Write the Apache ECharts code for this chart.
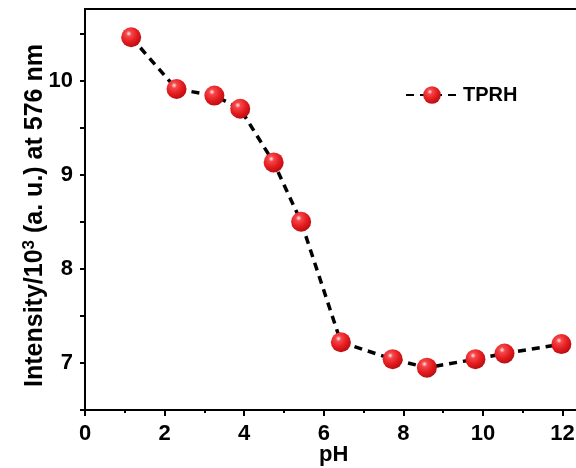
<!DOCTYPE html>
<html>
<head>
<meta charset="utf-8">
<script src="https://cdn.jsdelivr.net/npm/echarts@6/dist/echarts.min.js"></script>
<style>html,body{margin:0;padding:0;background:#fff;}#c{width:576px;height:468px;}</style>
</head>
<body>
<div id="c"></div>
<script>
const seriesName = 'TPRH';
const pH = [1.16, 2.30, 3.25, 3.90, 4.74, 5.43, 6.43, 7.73, 8.59, 9.81, 10.54, 11.97];
const intensity = [10.46, 9.91, 9.84, 9.70, 9.13, 8.50, 7.22, 7.04, 6.95, 7.04, 7.10, 7.20];
const xTicks = [0, 2, 4, 6, 8, 10, 12];
const yTicks = [7, 8, 9, 10];

const chart = echarts.init(document.getElementById('c'));
const font = 'Liberation Sans, Arial, sans-serif';
const ball = {
  type: 'radial', x: 0.38, y: 0.32, r: 0.7,
  colorStops: [
    {offset: 0, color: '#ffe8e8'},
    {offset: 0.2, color: '#f4474a'},
    {offset: 0.6, color: '#e51c20'},
    {offset: 1, color: '#b80d10'}
  ]
};
chart.setOption({
  animation: false,
  backgroundColor: '#fff',
  grid: {left: 85, top: 9, right: -6.5, bottom: 58, show: true, borderColor: '#000', borderWidth: 2,
    backgroundColor: 'transparent', containLabel: false, outerBoundsMode: 'none'},
  legend: {
    data: [seriesName], left: 400, top: 80, itemWidth: 52, itemHeight: 22, itemGap: 9,
    textStyle: {fontFamily: font, fontWeight: 'bold', fontSize: 20, color: '#000'}
  },
  xAxis: {
    type: 'value', min: 0, max: 12.5, interval: 2,
    name: 'pH', nameLocation: 'middle', nameGap: 34, nameMoveOverlap: false,
    nameTextStyle: {fontFamily: font, fontWeight: 'bold', fontSize: 22, color: '#000'},
    axisLine: {show: true, lineStyle: {color: '#000', width: 2}},
    axisTick: {show: true, inside: false, length: 6, lineStyle: {color: '#000', width: 2}},
    minorTick: {show: true, splitNumber: 2, length: 3, lineStyle: {color: '#000', width: 2}},
    splitLine: {show: false},
    axisLabel: {
      fontFamily: font, fontWeight: 'bold', fontSize: 22, color: '#000', margin: 13,
      formatter: v => xTicks.indexOf(v) >= 0 ? String(v) : ''
    }
  },
  yAxis: {
    type: 'value', min: 6.5, max: 10.76, interval: 0.5,
    name: 'Intensity/10{sup|3} (a. u.) at 576 nm', nameLocation: 'middle', nameGap: 35, nameRotate: 90,
    nameMoveOverlap: false,
    nameTextStyle: {
      fontFamily: font, fontWeight: 'bold', fontSize: 25, color: '#000', padding: [0, 12, 0, 0],
      rich: {sup: {fontFamily: font, fontWeight: 'bold', fontSize: 17, color: '#000', verticalAlign: 'top', padding: [0, 0, 12, 0]}}
    },
    axisLine: {show: true, lineStyle: {color: '#000', width: 2}},
    axisTick: {show: true, inside: false, length: 5, lineStyle: {color: '#000', width: 2},
      customValues: [6.5, 7, 7.5, 8, 8.5, 9, 9.5, 10, 10.5]},
    splitLine: {show: false},
    axisLabel: {
      fontFamily: font, fontWeight: 'bold', fontSize: 22, color: '#000', margin: 12,
      customValues: yTicks,
      formatter: v => String(v)
    }
  },
  series: [{
    name: seriesName, type: 'line', data: pH.map((x, i) => [x, intensity[i]]),
    symbol: 'circle', symbolSize: 20,
    itemStyle: {color: ball},
    lineStyle: {color: '#000', width: 3.5, type: [8, 6]}
  }]
});
</script>
</body>
</html>
